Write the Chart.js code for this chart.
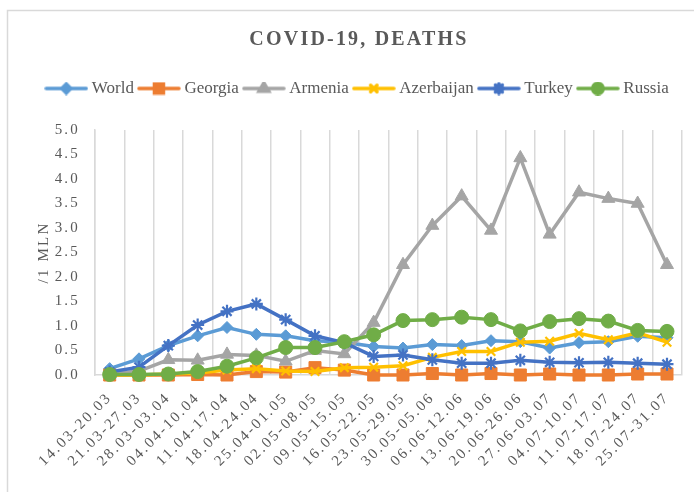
<!DOCTYPE html>
<html>
<head>
<meta charset="utf-8">
<script src="https://cdn.jsdelivr.net/npm/chart.js@4/dist/chart.umd.min.js"></script>
<style>
html,body{margin:0;padding:0;background:#fff;}
canvas{display:block;}
</style>
</head>
<body>
<canvas id="c" width="694" height="492"></canvas>
<script>
const chartTitle = 'COVID-19, DEATHS';
const yAxisTitle = '/1 MLN';
const categories = ['14.03-20.03','21.03-27.03','28.03-03.04','04.04-10.04','11.04-17.04','18.04-24.04','25.04-01.05','02.05-08.05','09.05-15.05','16.05-22.05','23.05-29.05','30.05-05.06','06.06-12.06','13.06-19.06','20.06-26.06','27.06-03.07','04.07-10.07','11.07-17.07','18.07-24.07','25.07-31.07'];
const seriesNames = ['World','Georgia','Armenia','Azerbaijan','Turkey','Russia'];
const world      = [0.13,0.33,0.60,0.80,0.97,0.83,0.80,0.70,0.67,0.58,0.55,0.62,0.60,0.70,0.68,0.55,0.66,0.68,0.79,0.76];
const georgia    = [0.00,0.00,0.00,0.01,0.00,0.07,0.06,0.15,0.10,0.00,0.00,0.03,0.00,0.03,0.00,0.02,0.00,0.00,0.02,0.02];
const armenia    = [0.02,0.08,0.31,0.30,0.42,0.40,0.28,0.50,0.43,1.07,2.25,3.05,3.65,2.95,4.43,2.87,3.73,3.60,3.50,2.25];
const azerbaijan = [0.00,0.00,0.02,0.04,0.10,0.13,0.08,0.07,0.15,0.16,0.19,0.36,0.48,0.48,0.67,0.69,0.85,0.72,0.86,0.67];
const turkey     = [0.06,0.16,0.60,1.02,1.30,1.45,1.13,0.80,0.66,0.38,0.41,0.31,0.24,0.24,0.30,0.26,0.25,0.26,0.24,0.22];
const russia     = [0.01,0.01,0.02,0.07,0.18,0.35,0.56,0.56,0.68,0.82,1.11,1.13,1.18,1.13,0.90,1.09,1.15,1.10,0.91,0.89];
const yMin = 0, yMax = 5, yStep = 0.5;

const seriesValues = [world, georgia, armenia, azerbaijan, turkey, russia];
const colors = ['#5B9BD5','#ED7D31','#A5A5A5','#FFC000','#4472C4','#70AD47'];
const styles = ['rectRot','rect','triangle','crossRot','star','circle'];
const radii = [6, 8.5, 7.5, 6, 6.5, 7];
const borderW = [1, 1, 1, 2.2, 2.2, 1];

const FONT = '"Liberation Serif", "Times New Roman", serif';
const TXT = '#595959';
const SPACING = '2.2px';

// legend swatches: line + marker
const legendImgs = seriesNames.map((n, i) => {
  const cv = document.createElement('canvas');
  cv.width = 44; cv.height = 14;
  const g = cv.getContext('2d');
  g.strokeStyle = colors[i]; g.lineWidth = 3.5; g.lineCap = 'round';
  g.beginPath(); g.moveTo(2, 7); g.lineTo(42, 7); g.stroke();
  g.fillStyle = colors[i]; g.strokeStyle = colors[i];
  Chart.helpers.drawPoint(g, {pointStyle: styles[i], radius: radii[i] * 0.75, borderWidth: borderW[i]}, 22, 7);
  return cv;
});

const spacingPlugin = {
  id: 'spacing',
  beforeLayout(chart) {
    chart.ctx.letterSpacing = SPACING;
    const lg = chart.legend;
    if (lg && !lg._wrapped) {
      lg._wrapped = true;
      const f = lg.fit, d = lg.draw;
      lg.fit = function () { const c = this.ctx, s = c.letterSpacing; c.letterSpacing = '0px'; f.apply(this, arguments); c.letterSpacing = s; };
      lg.draw = function () { const c = this.ctx, s = c.letterSpacing; c.letterSpacing = '0px'; d.apply(this, arguments); c.letterSpacing = s; };
    }
  },
  beforeDraw(chart) {
    const c = chart.ctx;
    c.save();
    c.fillStyle = '#fff';
    c.fillRect(0, 0, chart.width, chart.height);
    c.strokeStyle = '#d9d9d9';
    c.lineWidth = 1.5;
    c.strokeRect(7.5, 10.5, 720, 520);
    c.restore();
    c.letterSpacing = SPACING;
  }
};

const spacerPlugin = {
  id: 'legendSpacer',
  beforeInit(chart) {
    Chart.layouts.addBox(chart, {
      position: 'top', weight: 100, fullSize: true, options: {display: true},
      top: 0, left: 0, right: 0, bottom: 0, width: 0, height: 0,
      isHorizontal() { return true; },
      update(w) { this.width = w; this.height = 23; },
      draw() {}
    });
  }
};

const datasets = seriesNames.map((name, i) => ({
  label: name,
  data: seriesValues[i],
  borderColor: colors[i],
  backgroundColor: colors[i],
  borderWidth: 3.5,
  pointStyle: styles[i],
  pointRadius: radii[i],
  pointHoverRadius: radii[i],
  pointBackgroundColor: colors[i],
  pointBorderColor: colors[i],
  pointBorderWidth: borderW[i],
  tension: 0,
  clip: false,
  order: seriesNames.length - 1 - i
}));

new Chart(document.getElementById('c'), {
  type: 'line',
  data: { labels: categories, datasets },
  plugins: [spacingPlugin, spacerPlugin],
  options: {
    responsive: false,
    animation: false,
    events: [],
    layout: { padding: { left: 35, right: 11, top: 10, bottom: 0 } },
    plugins: {
      tooltip: { enabled: false },
      title: {
        display: true, text: chartTitle, color: TXT,
        font: { family: FONT, size: 20, weight: 'bold' },
        padding: { top: 18, bottom: 20 }
      },
      legend: {
        display: true, position: 'top',
        labels: {
          color: TXT,
          font: { family: FONT, size: 17 },
          usePointStyle: true,
          pointStyleWidth: 34,
          padding: 8,
          sort: (a, b) => a.datasetIndex - b.datasetIndex,
          generateLabels(chart) {
            const items = Chart.defaults.plugins.legend.labels.generateLabels(chart);
            items.forEach(it => { it.pointStyle = legendImgs[it.datasetIndex]; });
            return items;
          }
        }
      }
    },
    scales: {
      x: {
        type: 'category',
        offset: true,
        grid: { display: true, offset: true, color: '#d9d9d9', lineWidth: 1.5, drawTicks: false },
        border: { display: true, color: '#d9d9d9', width: 1.5 },
        ticks: {
          color: TXT, font: { family: FONT, size: 15 },
          minRotation: 45, maxRotation: 45, autoSkip: false, padding: 14
        },
        afterFit(scale) { scale.height = 117; }
      },
      y: {
        min: yMin, max: yMax,
        grid: { display: false, drawTicks: false },
        border: { display: true, color: '#d9d9d9', width: 1.5 },
        title: { display: true, text: yAxisTitle, color: TXT, font: { family: FONT, size: 15 }, padding: { top: 0, bottom: 3 } },
        ticks: {
          stepSize: yStep, color: TXT, font: { family: FONT, size: 15 }, padding: 15,
          callback: v => Number(v).toFixed(1)
        },
        afterFit(scale) { scale.width = 60; }
      }
    }
  }
});
</script>
</body>
</html>
